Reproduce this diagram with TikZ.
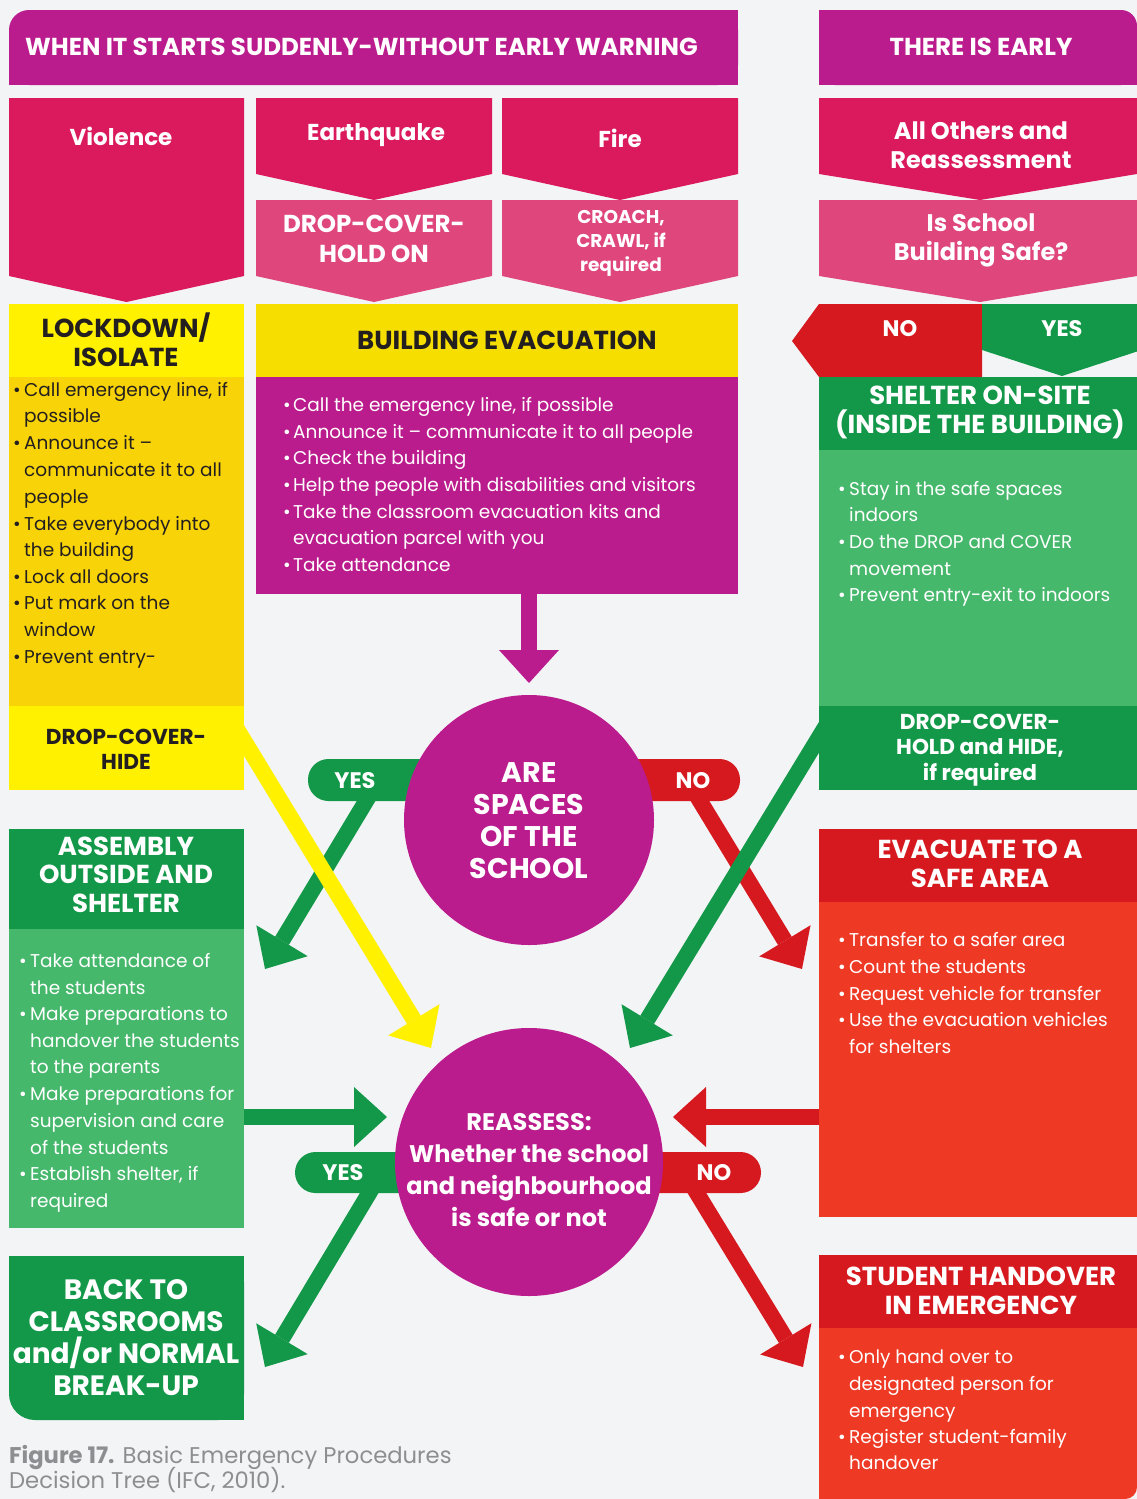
\documentclass[tikz,border=0pt]{standalone}
\usepackage{fontspec}
\setmainfont{Poppins}
\usetikzlibrary{arrows.meta}

\definecolor{bgc}{HTML}{F3F4F6}
\definecolor{purp}{HTML}{BB1C8D}
\definecolor{crim}{HTML}{DA1A5C}
\definecolor{pinkl}{HTML}{DE467C}
\definecolor{yelb}{HTML}{FFF100}
\definecolor{yelh}{HTML}{F5DE00}
\definecolor{yelbody}{HTML}{F8D308}
\definecolor{gdark}{HTML}{129848}
\definecolor{glight}{HTML}{46B86C}
\definecolor{redd}{HTML}{D6191F}
\definecolor{redo}{HTML}{EE3A25}
\definecolor{ink}{HTML}{231F20}
\definecolor{capg}{HTML}{8C8E91}

% one text line per entry: y / has-bullet / text
\newcommand\bulletlist[4]{%
  \foreach \yy/\bb/\ll [count=\k] in {#4}{%
    \ifnum\bb=1
      \node[bodytxt] (#1-\k) at (#2,\yy) {\makebox[\dimexpr#3pt-#2pt\relax][l]{•}\ll};
    \else
      \node[bodytxt] (#1-\k) at (#3,\yy) {\ll};
    \fi
  }%
}

\begin{document}
\begin{tikzpicture}[x=1pt,y=-1pt,
  title/.style={font={\bfseries\fontsize{24.5}{28}\selectfont}, text=white, inner sep=0pt},
  hd/.style={font={\bfseries\fontsize{23}{29}\selectfont}, text=white, align=center, inner sep=0pt},
  hdcaps/.style={hd, font={\bfseries\fontsize{26}{29}\selectfont}},
  hdsmall/.style={hd, font={\bfseries\fontsize{21.6}{25.5}\selectfont}},
  bodytxt/.style={font={\fontsize{18.5}{22}\selectfont}, text=white, inner sep=0pt, anchor=mid west, yshift=-3pt},
  pilltxt/.style={font={\bfseries\fontsize{22.5}{26}\selectfont}, text=white, inner sep=0pt},
  box/.style={inner sep=0pt, outer sep=0pt, anchor=north west},
  arr/.style={line width=16pt, -{Triangle[width=60pt,length=33pt,line width=0pt]}},
  pill/.style={rounded corners=20.5pt}
]
\fill[bgc] (0,0) rectangle (1137,1499);
\useasboundingbox (0,0) rectangle (1137,1499);

% ---------- banners ----------
\fill[purp, rounded corners=20pt] (9,10) rectangle (738,85);
\fill[purp] (40,10) rectangle (738,85);
\fill[purp] (9,40) rectangle (738,85);
\node[title, anchor=west] (sudden) at (25,47) {WHEN IT STARTS SUDDENLY-WITHOUT EARLY WARNING};

\fill[purp, rounded corners=16pt] (819,10) rectangle (1137,85);
\fill[purp] (819,10) rectangle (1100,85);
\fill[purp] (819,40) rectangle (1137,85);
\node[title] (early) at (981,47) {THERE IS EARLY};

% ---------- hazard chevrons ----------
\fill[crim] (9,98) -- (244,98) -- (244,276) -- (126.5,302) -- (9,276) -- cycle;
\node[hd] (violence) at (121,136) {Violence};

\fill[crim] (256,98) -- (492,98) -- (492,174) -- (374,200) -- (256,174) -- cycle;
\fill[pinkl] (256,200) -- (492,200) -- (492,276) -- (374,302) -- (256,276) -- cycle;
\node[hd] (quake) at (376,135) {Earthquake};
\node[hd, font={\bfseries\fontsize{24.5}{29.5}\selectfont}] (dch) at (374,239) {DROP-COVER-\\HOLD ON};

\fill[crim] (502,98) -- (738,98) -- (738,174) -- (620,200) -- (502,174) -- cycle;
\fill[pinkl] (502,200) -- (738,200) -- (738,276) -- (620,302) -- (502,276) -- cycle;
\node[hd] (fire) at (620,138) {Fire};
\node[hd, font={\bfseries\fontsize{18.5}{24}\selectfont}] (crawl) at (621,243) {CROACH,\\CRAWL, if\\required};

\fill[crim] (819,98) -- (1137,98) -- (1137,174) -- (980,200) -- (819,174) -- cycle;
\fill[pinkl] (819,200) -- (1137,200) -- (1137,276) -- (980,302) -- (819,276) -- cycle;
\node[hd, font={\bfseries\fontsize{24}{29}\selectfont}] (others) at (981,145) {All Others and\\Reassessment};
\node[hd, font={\bfseries\fontsize{24}{29}\selectfont}] (safe) at (981,240) {Is School\\Building Safe?};

% ---------- NO / YES split ----------
\fill[redd] (819,304) -- (982,304) -- (982,377) -- (819,377) -- (792,341) -- cycle;
\fill[gdark] (982,304) -- (1137,304) -- (1137,351.5) -- (1062,376) -- (982,350) -- cycle;
\node[pilltxt] (no0) at (900,329) {NO};
\node[pilltxt] (yes0) at (1062,329) {YES};

% ---------- pills on the decision circles ----------
\fill[gdark, pill] (308,759) rectangle (470,801);
\fill[redd, pill] (590,759) rectangle (740,801);
\fill[gdark, pill] (295,1152) rectangle (470,1193);
\fill[redd, pill] (590,1152) rectangle (761,1193);

% ---------- arrow end points ----------
\coordinate (yes1s) at (371.5,792);
\coordinate (yes1e) at (265,969);
\coordinate (no1s) at (694.5,792);
\coordinate (no1e) at (802,969);
\coordinate (yels) at (226,711);
\coordinate (yele) at (431,1048);
\coordinate (grns) at (835,711);
\coordinate (grne) at (630,1048);
\coordinate (yes2s) at (374,1185);
\coordinate (yes2e) at (265,1367);
\coordinate (no2s) at (692,1185);
\coordinate (no2e) at (803,1367);
\coordinate (c1in) at (529,683);
\coordinate (c2inl) at (387,1117);
\coordinate (c2inr) at (673,1117);

\draw[arr, gdark] (yes1s) -- (yes1e);
\draw[arr, redd] (no1s) -- (no1e);
\draw[arr, yelb] (yels) -- (yele);
\draw[arr, gdark] (grns) -- (grne);
\draw[arr, gdark] (yes2s) -- (yes2e);
\draw[arr, redd] (no2s) -- (no2e);

% ---------- left column ----------
\node[box, fill=yelb, minimum width=235pt, minimum height=73pt] (lockh) at (9,304) {};
\node[box, fill=yelbody, minimum width=235pt, minimum height=329pt] (lockb) at (9,377) {};
\node[box, fill=yelb, minimum width=235pt, minimum height=84pt] (lockf) at (9,706) {};
\node[hdcaps, text=ink] (lockt) at (126,339.5) {LOCKDOWN/\\ISOLATE};
\node[hdsmall, text=ink] (hide) at (126,749.5) {DROP-COVER-\\HIDE};
\begin{scope}[bodytxt/.append style={text=ink}]
\bulletlist{lk}{13}{24}{391/1/{Call emergency line, if},417/0/possible,444/1/{Announce it –},471/0/{communicate it to all},498/0/people,525/1/{Take everybody into},551/0/{the building},578/1/{Lock all doors},604/1/{Put mark on the},631/0/window,658/1/{Prevent entry-}}
\end{scope}

\node[box, fill=gdark, minimum width=235pt, minimum height=100pt] (asmh) at (9,829) {};
\node[box, fill=glight, minimum width=235pt, minimum height=299pt] (asmb) at (9,929) {};
\node[hdcaps, font={\bfseries\fontsize{26}{28.5}\selectfont}] (asmt) at (126,874.5) {ASSEMBLY\\OUTSIDE AND\\SHELTER};
\bulletlist{as}{19}{30}{962/1/{Take attendance of},989/0/{the students},1015/1/{Make preparations to},1042/0/{handover the students},1068/0/{to the parents},1095/1/{Make preparations for},1122/0/{supervision and care},1149/0/{of the students},1175/1/{Establish shelter, if},1202/0/required}

\fill[gdark, rounded corners=26pt] (9,1256) rectangle (244,1420);
\fill[gdark] (9,1256) rectangle (244,1380);
\fill[gdark] (60,1256) rectangle (244,1420);
\node[hd, font={\bfseries\fontsize{28}{32}\selectfont}] (back) at (126,1338) {BACK TO\\CLASSROOMS\\and/or NORMAL\\BREAK-UP};

% ---------- middle column ----------
\node[box, fill=yelh, minimum width=482pt, minimum height=73pt] (evh) at (256,304) {};
\node[box, fill=purp, minimum width=482pt, minimum height=217pt] (evb) at (256,377) {};
\node[hdcaps, text=ink] (evt) at (507,340) {BUILDING EVACUATION};
\bulletlist{ev}{283}{293}{406/1/{Call the emergency line, if possible},433/1/{Announce it – communicate it to all people},459/1/{Check the building},486/1/{Help the people with disabilities and visitors},513/1/{Take the classroom evacuation kits and},539/0/{evacuation parcel with you},566/1/{Take attendance}}

\draw[arr, purp] (evb.south -| c1in) -- (c1in);

% ---------- right column ----------
\node[box, fill=gdark, minimum width=318pt, minimum height=73pt] (shh) at (819,377) {};
\node[box, fill=glight, minimum width=318pt, minimum height=256pt] (shb) at (819,450) {};
\node[box, fill=gdark, minimum width=318pt, minimum height=84pt] (shf) at (819,706) {};
\node[hdcaps] (sht) at (980,412) {SHELTER ON-SITE\\(INSIDE THE BUILDING)};
\node[hdsmall] (hold) at (980,750) {DROP-COVER-\\HOLD and HIDE,\\if required};
\bulletlist{sh}{838}{849}{490/1/{Stay in the safe spaces},516/0/indoors,543/1/{Do the DROP and COVER},570/0/movement,596/1/{Prevent entry-exit to indoors}}

\node[box, fill=redd, minimum width=318pt, minimum height=73pt] (vah) at (819,829) {};
\node[box, fill=redo, minimum width=318pt, minimum height=315pt] (vab) at (819,902) {};
\node[hdcaps] (vat) at (980,864) {EVACUATE TO A\\SAFE AREA};
\bulletlist{va}{838}{849}{941/1/{Transfer to a safer area},968/1/{Count the students},995/1/{Request vehicle for transfer},1021/1/{Use the evacuation vehicles},1048/0/{for shelters}}

\node[box, fill=redd, minimum width=318pt, minimum height=73pt] (hoh) at (819,1255) {};
\fill[redo, rounded corners=12pt] (819,1328) rectangle (1137,1499);
\fill[redo] (819,1328) rectangle (1137,1470);
\fill[redo] (819,1328) rectangle (1100,1499);
\node[hdcaps] (hot) at (981,1290.5) {STUDENT HANDOVER\\IN EMERGENCY};
\bulletlist{ho}{838}{849}{1358/1/{Only hand over to},1385/0/{designated person for},1412/0/emergency,1438/1/{Register student-family},1464/0/handover}

% horizontal arrows into the reassessment circle
\draw[arr, gdark] (asmb.east |- c2inl) -- (c2inl);
\draw[arr, redd] (vab.west |- c2inr) -- (c2inr);

% ---------- decision circles ----------
\node[circle, fill=purp, minimum size=250pt, inner sep=0pt] (c1) at (529,820) {};
\node[hd, font={\bfseries\fontsize{28.4}{32}\selectfont}] (c1t) at (529,821) {ARE\\SPACES\\OF THE\\SCHOOL};
\node[pilltxt] (yes1) at (355,781) {YES};
\node[pilltxt] (no1) at (693,781) {NO};

\node[circle, fill=purp, minimum size=268pt, inner sep=0pt] (c2) at (529,1162) {};
\node[hd, font={\bfseries\fontsize{24}{32}\selectfont}] (c2t) at (529,1170) {REASSESS:\\Whether the school\\and neighbourhood\\is safe or not};
\node[pilltxt] (yes2) at (343,1173) {YES};
\node[pilltxt] (no2) at (714,1173) {NO};

% ---------- caption ----------
\node[anchor=mid west, inner sep=0pt, text=capg, font={\fontsize{22.7}{28}\selectfont}] (cap1) at (9,1461) {\textbf{Figure 17.} Basic Emergency Procedures};
\node[anchor=mid west, inner sep=0pt, text=capg, font={\fontsize{22.7}{28}\selectfont}] (cap2) at (9,1486) {Decision Tree (IFC, 2010).};
\end{tikzpicture}
\end{document}
